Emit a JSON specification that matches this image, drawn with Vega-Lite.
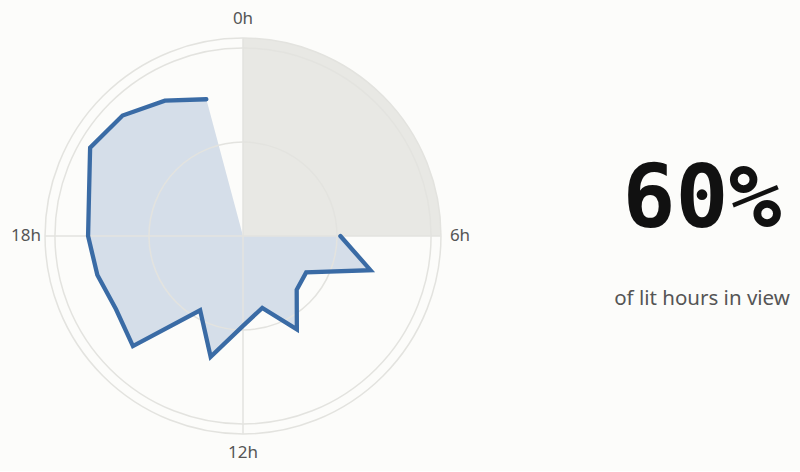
{
  "$schema": "https://vega.github.io/schema/vega-lite/v6.json",
  "autosize": {"type": "pad"},
  "padding": {"left": 11, "top": 10, "right": 0, "bottom": 10},
  "background": "#fcfcfa",
  "config": {"view": {"stroke": null}, "font": "Noto Sans"},
  "spacing": 133,
  "datasets": {
    "hours": [
      {"hour": 0, "value": null}, {"hour": 1, "value": null}, {"hour": 2, "value": null},
      {"hour": 3, "value": null}, {"hour": 4, "value": null}, {"hour": 5, "value": null},
      {"hour": 6, "value": 0.518}, {"hour": 7, "value": 0.702}, {"hour": 8, "value": 0.388},
      {"hour": 9, "value": 0.404}, {"hour": 10, "value": 0.573}, {"hour": 11, "value": 0.396},
      {"hour": 12, "value": 0.478}, {"hour": 13, "value": 0.665}, {"hour": 14, "value": 0.456},
      {"hour": 15, "value": 0.828}, {"hour": 16, "value": 0.78}, {"hour": 17, "value": 0.802},
      {"hour": 18, "value": 0.824}, {"hour": 19, "value": 0.848}, {"hour": 20, "value": 0.939},
      {"hour": 21, "value": 0.906}, {"hour": 22, "value": 0.831}, {"hour": 23, "value": 0.753}
    ],
    "mask": [{"from": 0, "to": 6}],
    "rings": [{"r": 0.5}, {"r": 1}, {"r": 1.053}],
    "ticks": [
      {"hour": 0, "label": "0h"}, {"hour": 6, "label": "6h"},
      {"hour": 12, "label": "12h"}, {"hour": 18, "label": "18h"}
    ],
    "summary": [{"share": "60%", "caption": "of lit hours in view"}]
  },
  "hconcat": [
    {
      "width": 376,
      "height": 376,
      "layer": [
        {
          "data": {"name": "mask"},
          "mark": {"type": "arc", "color": "#e8e8e4"},
          "encoding": {
            "theta": {"field": "from", "type": "quantitative", "stack": null, "scale": {"domain": [0, 24], "range": [0, 6.283185307179586]}},
            "theta2": {"field": "to"},
            "radius": {"value": 198}
          }
        },
        {
          "data": {"name": "hours"},
          "transform": [
            {"calculate": "isValid(datum.value) ? datum.value : 0", "as": "r"},
            {"calculate": "datum.r * sin(datum.hour * PI / 12)", "as": "px"},
            {"calculate": "datum.r * cos(datum.hour * PI / 12)", "as": "py"}
          ],
          "mark": {"type": "line", "fill": "#3a6ba5", "fillOpacity": 0.2, "strokeOpacity": 0},
          "encoding": {
            "x": {"field": "px", "type": "quantitative", "scale": {"domain": [-1, 1], "nice": false, "zero": false}, "axis": null},
            "y": {"field": "py", "type": "quantitative", "scale": {"domain": [-1, 1], "nice": false, "zero": false}, "axis": null},
            "order": {"field": "hour"}
          }
        },
        {
          "data": {"name": "rings"},
          "mark": {"type": "arc", "filled": false, "color": "#e3e3df", "strokeWidth": 1.5},
          "encoding": {
            "theta": {"value": 6.283185307179586},
            "radius": {"field": "r", "type": "quantitative", "stack": null, "scale": {"type": "linear", "domain": [0, 1], "range": [0, 188]}}
          }
        },
        {
          "data": {"name": "ticks"},
          "transform": [
            {"calculate": "1.053 * sin(datum.hour * PI / 12)", "as": "sx"},
            {"calculate": "1.053 * cos(datum.hour * PI / 12)", "as": "sy"},
            {"calculate": "0", "as": "origin"}
          ],
          "mark": {"type": "rule", "color": "#e3e3df", "strokeWidth": 1.5},
          "encoding": {
            "x": {"field": "origin", "type": "quantitative"},
            "y": {"field": "origin", "type": "quantitative"},
            "x2": {"field": "sx"},
            "y2": {"field": "sy"}
          }
        },
        {
          "data": {"name": "hours"},
          "transform": [
            {"filter": "isValid(datum.value)"},
            {"calculate": "datum.value * sin(datum.hour * PI / 12)", "as": "px"},
            {"calculate": "datum.value * cos(datum.hour * PI / 12)", "as": "py"}
          ],
          "mark": {"type": "line", "color": "#3a6ba5", "strokeWidth": 4.3, "strokeCap": "round"},
          "encoding": {
            "x": {"field": "px", "type": "quantitative"},
            "y": {"field": "py", "type": "quantitative"},
            "order": {"field": "hour"}
          }
        },
        {
          "data": {"name": "ticks"},
          "mark": {"type": "text", "fontSize": 17, "color": "#555555", "align": "center", "baseline": "middle"},
          "encoding": {
            "theta": {"field": "hour", "type": "quantitative", "stack": null, "scale": {"domain": [0, 24], "range": [0, 6.283185307179586]}},
            "radius": {"value": 217},
            "text": {"field": "label"}
          }
        }
      ]
    },
    {
      "width": 196,
      "height": 376,
      "data": {"name": "summary"},
      "layer": [
        {
          "mark": {"type": "text", "font": "DejaVu Sans Mono", "fontWeight": "bold", "fontSize": 88, "color": "#111111", "baseline": "alphabetic", "align": "center", "dy": -9},
          "encoding": {"text": {"field": "share"}}
        },
        {
          "mark": {"type": "text", "fontSize": 20.5, "color": "#555555", "baseline": "alphabetic", "align": "center", "dy": 69},
          "encoding": {"text": {"field": "caption"}}
        }
      ]
    }
  ]
}
